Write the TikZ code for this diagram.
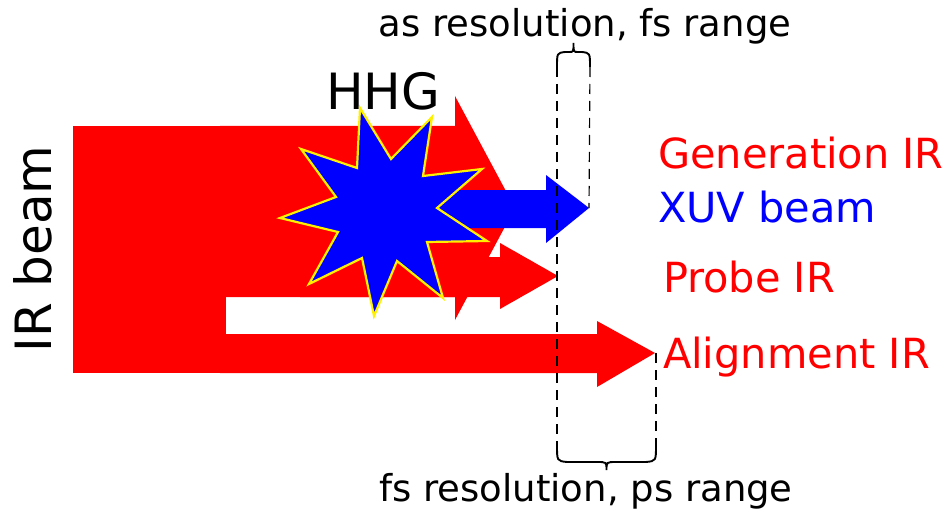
\documentclass[tikz,border=0pt]{standalone}
\usepackage{fontspec}
\setmainfont{DejaVu Sans}
\definecolor{irred}{RGB}{255,0,0}
\definecolor{xuvblue}{RGB}{0,0,255}
\definecolor{staryellow}{RGB}{255,240,0}
\begin{document}
\begin{tikzpicture}[x=1pt,y=-1pt,
  redbeam/.style={fill=irred,draw=none},
  bluebeam/.style={fill=xuvblue,draw=none},
  starshape/.style={fill=xuvblue,draw=staryellow,line width=2.2pt,line join=miter},
  guide/.style={draw=black,line width=1.2pt,dash pattern=on 10pt off 7pt},
  bracestyle/.style={draw=black,line width=1.9pt},
  lbl/.style={inner sep=0pt,outer sep=0pt},
  red label/.style={lbl,text=irred,font=\fontsize{41.5}{48}\selectfont,anchor=base west},
  blue label/.style={lbl,text=xuvblue,font=\fontsize{41.5}{48}\selectfont,anchor=base west},
  range label/.style={lbl,font=\fontsize{37}{44}\selectfont,anchor=base}]
\useasboundingbox (0,0) rectangle (949,513);
% red IR beam split into three arrows
\fill[redbeam] (73,126) rectangle (226,373);
\fill[redbeam] (220,126) -- (455,126) -- (455,96) -- (515,208) -- (455,320) -- (455,297) -- (220,297) -- cycle;
\fill[redbeam] (300,257) -- (500,257) -- (500,243) -- (558,276) -- (500,309) -- (500,297) -- (300,297) -- cycle;
\fill[redbeam] (220,334) -- (597,334) -- (597,321) -- (655,353) -- (597,387) -- (597,373) -- (220,373) -- cycle;
% XUV beam
\fill[bluebeam] (400,190) -- (546,190) -- (546,175) -- (589,208) -- (546,243) -- (546,228) -- (400,228) -- cycle;
% labels
\node[lbl,font=\fontsize{50}{58}\selectfont,anchor=base] (hhg) at (383,110) {HHG};
\node[lbl,font=\fontsize{50}{58}\selectfont,anchor=base,rotate=90] (irbeam) at (51,249) {IR beam};
% HHG star
\draw[starshape] (360,108) -- (391,159) -- (432,117) -- (423,176) -- (482,169) -- (437,208)
  -- (487,241) -- (427,242) -- (443,298) -- (397,261) -- (374,316) -- (362,258)
  -- (309,284) -- (338,232) -- (280,218) -- (336,197) -- (301,149) -- (357,168) -- cycle;
% tip coordinates
\coordinate (xuvtip) at (589,208);
\coordinate (probetip) at (557,276);
\coordinate (aligntip) at (656,353);
\coordinate (topL) at (557,67);
\coordinate (topR) at (590,67);
\coordinate (botL) at (557,445);
\coordinate (botR) at (656,445);
% dashed guides
\draw[guide] (topL) -- (botL);
\draw[guide] (topR) -- (xuvtip);
\draw[guide] (aligntip) -- (botR);
% braces
\draw[bracestyle] (topL) .. controls (557,53) .. (565,52) -- (569,52) .. controls (573.5,52) .. (573.5,43)
  .. controls (573.5,52) .. (578,52) -- (582,52) .. controls (590,53) .. (topR);
\draw[bracestyle] (botL) .. controls (557,461) .. (567,462) -- (597,462) .. controls (606.5,462) .. (606.5,470)
  .. controls (606.5,462) .. (616,462) -- (646,462) .. controls (656,461) .. (botR);
% range labels
\node[range label] (asres) at (585,37) {as resolution, fs range};
\node[range label] (fsres) at (586,501) {fs resolution, ps range};
% beam labels
\node[red label] (genir) at (658,168) {Generation IR};
\node[blue label] (xuv) at (658,222) {XUV beam};
\node[red label] (probe) at (663,292) {Probe IR};
\node[red label] (align) at (663,368) {Alignment IR};
\end{tikzpicture}
\end{document}
